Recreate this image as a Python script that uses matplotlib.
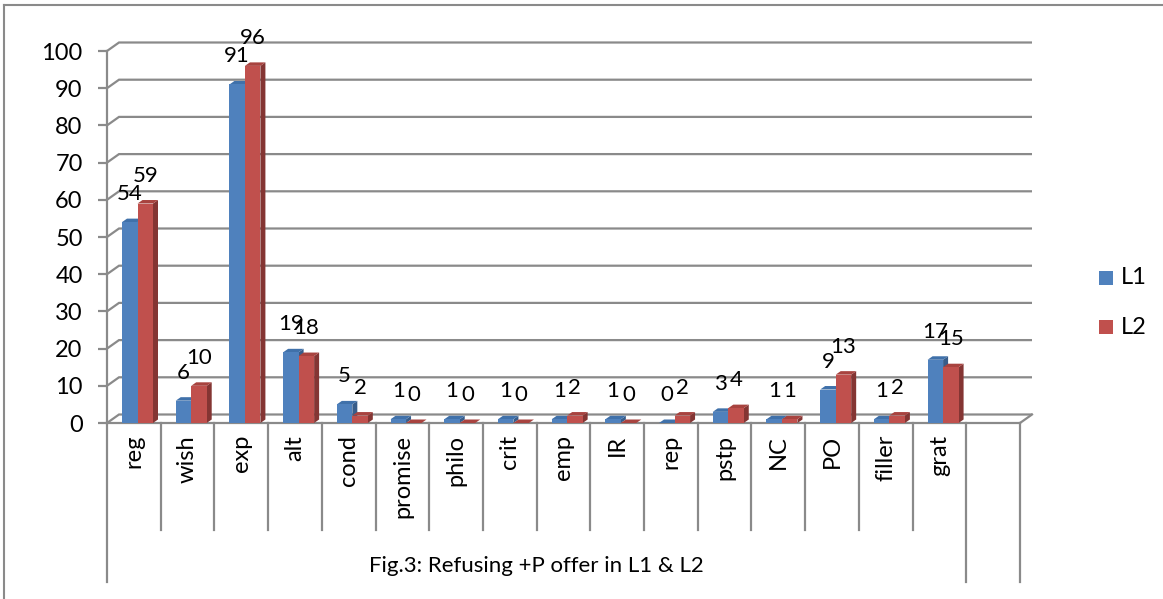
import matplotlib
matplotlib.use("Agg")
import matplotlib.pyplot as plt
from matplotlib.patches import Polygon, Rectangle
from matplotlib.lines import Line2D

# ---- data -------------------------------------------------------------
categories = ["reg", "wish", "exp", "alt", "cond", "promise", "philo", "crit",
              "emp", "IR", "rep", "pstp", "NC", "PO", "filler", "grat"]
l1_values = [54, 6, 91, 19, 5, 1, 1, 1, 1, 1, 0, 3, 1, 9, 1, 17]
l2_values = [59, 10, 96, 18, 2, 0, 0, 0, 2, 0, 2, 4, 1, 13, 2, 15]
series_names = ["L1", "L2"]
y_ticks = list(range(0, 101, 10))
group_title = "Fig.3: Refusing +P offer in L1 & L2"

# ---- style ------------------------------------------------------------
W, H = 1163, 599
GRID = "#8a8a8a"
GLW = 1.6
FACES = {
    "L1": {"front": "#4F81BD", "top": "#4071AA", "side": "#385D8A"},
    "L2": {"front": "#C0504D", "top": "#A8433F", "side": "#843533"},
}
FS = 17
LABEL_FS = 16

plt.rcParams["font.family"] = ["Lato", "DejaVu Sans"]

fig = plt.figure(figsize=(W / 100, H / 100), dpi=100)
fig.patch.set_facecolor("white")

# front plane of the 3-D plot area
ax_left, ax_right, ax_top, ax_bottom = 107, 1020, 51, 423
ax = fig.add_axes([ax_left / W, (H - ax_bottom) / H,
                   (ax_right - ax_left) / W, (ax_bottom - ax_top) / H])
nslots = len(categories) + 1
ax.set_xlim(0, nslots)
ax.set_ylim(0, 100)
ax.patch.set_visible(False)

px_x = ax.bbox.width / nslots       # pixels per category slot
px_y = ax.bbox.height / 100.0       # pixels per value unit


def to_data(dx_px, dy_px):
    return dx_px / px_x, dy_px / px_y


wall_dx, wall_dy = to_data(12, 8.5)   # depth of the back wall
bar_dx, bar_dy = to_data(5, 3.5)      # depth of each bar

# back-wall gridlines with their diagonal returns to the value axis
for v in y_ticks:
    ax.plot([0, wall_dx, nslots + wall_dx], [v, v + wall_dy, v + wall_dy],
            color=GRID, lw=GLW, clip_on=False, zorder=1,
            solid_capstyle="butt", solid_joinstyle="miter")
# right edge of the floor
ax.plot([nslots, nslots + wall_dx], [0, wall_dy], color=GRID, lw=GLW,
        clip_on=False, zorder=1)

for side in ("top", "right"):
    ax.spines[side].set_visible(False)
for side in ("left", "bottom"):
    ax.spines[side].set_color(GRID)
    ax.spines[side].set_linewidth(GLW)
    ax.spines[side].set_zorder(1.5)

ax.set_yticks(y_ticks)
ax.tick_params(axis="y", length=6.5, width=GLW, color=GRID, pad=11,
               labelsize=FS, labelcolor="black")
ax.set_xticks([])


def draw_bar(x0, w, h, faces, z):
    x1 = x0 + w
    side = Polygon([(x1, 0), (x1, h), (x1 + bar_dx, h + bar_dy),
                    (x1 + bar_dx, bar_dy)], closed=True,
                   facecolor=faces["side"], edgecolor="none", zorder=z,
                   clip_on=False)
    top = Polygon([(x0, h), (x1, h), (x1 + bar_dx, h + bar_dy),
                   (x0 + bar_dx, h + bar_dy)], closed=True,
                  facecolor=faces["top"], edgecolor="none", zorder=z,
                  clip_on=False)
    ax.add_patch(side)
    ax.add_patch(top)
    ax.bar(x0, h, width=w, align="edge", color=faces["front"],
           edgecolor="none", zorder=z, clip_on=False)


bar_w = 15.5 / px_x
bar_start = 15 / px_x
for i, (a, b) in enumerate(zip(l1_values, l2_values)):
    xa = i + bar_start
    xb = xa + bar_w
    draw_bar(xa, bar_w, a, FACES["L1"], 3)
    draw_bar(xb, bar_w, b, FACES["L2"], 4)
    for x, v in ((xa, a), (xb, b)):
        ax.annotate(str(v), xy=(x + bar_w / 2, v), xytext=(0, 28),
                    textcoords="offset pixels", ha="center", va="center",
                    fontsize=LABEL_FS, color="black", zorder=6,
                    annotation_clip=False)

# two-level category axis below the floor
xtrans = ax.get_xaxis_transform()
ax_h = ax.bbox.height
short_len = -(530 - ax_bottom) / ax_h
long_len = -(582 - ax_bottom) / ax_h
for i in range(nslots + 1):
    y_end = long_len if i in (0, len(categories), nslots) else short_len
    ax.plot([i, i], [0, y_end], transform=xtrans, color=GRID, lw=GLW,
            clip_on=False, zorder=1)
for i, cat in enumerate(categories):
    ax.text(i + 0.5, -12 / ax_h, cat, rotation=90, ha="center", va="top",
            transform=xtrans, fontsize=FS, color="black")
ax.text(len(categories) / 2, -(566 - ax_bottom) / ax_h, group_title,
        ha="center", va="center", transform=xtrans, fontsize=16,
        color="black")

# legend
for name, yc in zip(series_names, (278, 327)):
    fig.add_artist(Rectangle((1099 / W, (H - yc - 7) / H), 14 / W, 14 / H,
                             transform=fig.transFigure,
                             facecolor=FACES[name]["front"], edgecolor="none"))
    fig.text(1121 / W, (H - yc) / H, name, va="center", ha="left",
             fontsize=FS, color="black")

# chart-area frame (left and top edges)
fig.add_artist(Line2D([4 / W, 4 / W], [0, (H - 5) / H], color=GRID, lw=1.5,
                      transform=fig.transFigure))
fig.add_artist(Line2D([4 / W, 1], [(H - 5) / H, (H - 5) / H], color=GRID,
                      lw=1.5, transform=fig.transFigure))

fig.savefig("out.png", dpi=100)
